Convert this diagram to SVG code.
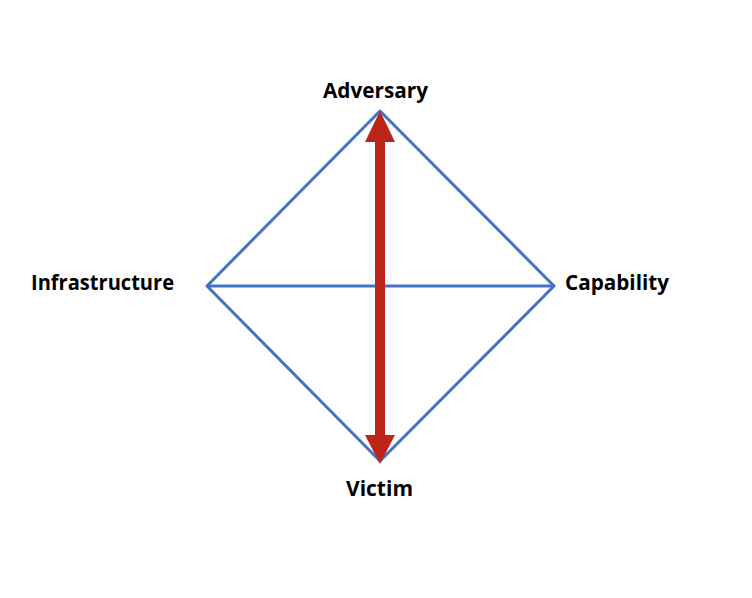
<svg xmlns="http://www.w3.org/2000/svg" width="752" height="598" viewBox="0 0 752 598">
<style>
.lbl{font-family:"Open Sans","Liberation Sans",sans-serif;font-weight:bold;font-size:21px;fill:#000}
.edge{stroke:#4472C4;stroke-width:3;fill:none;stroke-linejoin:round}
</style>
<rect width="752" height="598" fill="#fff"/>
<g id="connectors">
<polygon class="edge" points="380,111 554,286 380,461 207,286"/>
<line class="edge" x1="207" y1="286" x2="554" y2="286"/>
<g id="arrow" fill="#BB2418">
<rect x="375" y="140" width="10" height="297"/>
<polygon points="380,111 395,142 365,142"/>
<polygon points="380,464 395,435 365,435"/>
</g>
</g>
<g id="adversary"><text class="lbl" x="323" y="98" textLength="105" lengthAdjust="spacingAndGlyphs">Adversary</text></g>
<g id="infrastructure"><text class="lbl" x="31" y="290" textLength="143" lengthAdjust="spacingAndGlyphs">Infrastructure</text></g>
<g id="capability"><text class="lbl" x="565" y="290" textLength="104" lengthAdjust="spacingAndGlyphs">Capability</text></g>
<g id="victim"><text class="lbl" x="346" y="496" textLength="67" lengthAdjust="spacingAndGlyphs">Victim</text></g>
</svg>
